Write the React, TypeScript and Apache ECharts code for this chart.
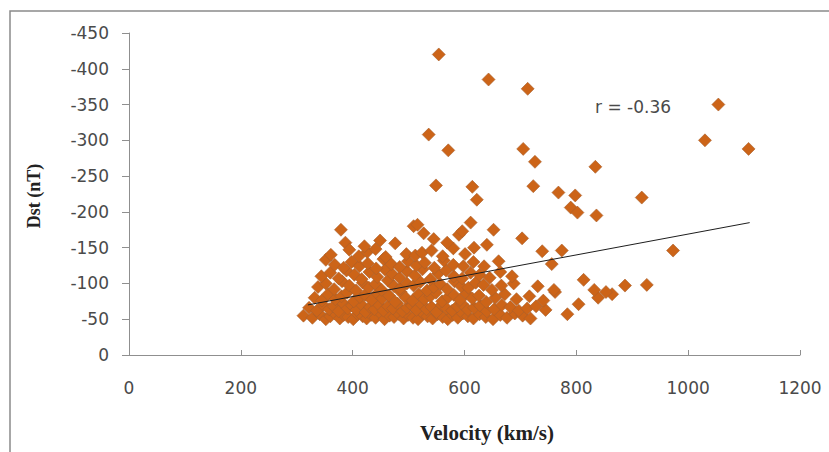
import React, { useEffect, useRef } from "react";
import * as echarts from "echarts";

// Velocity (km/s) and Dst (nT), grouped in Dst bands
const velA = [312,328,341,352,360,368,377,384,392,401,409,418,425,433,441,450,457,466,474,483,491,499,508,517,526,534,543,552,561,570,579,588,597,606,616,627,638,651,664,676,690,704,718,784];
const dstA = [-55,-52,-57,-50,-54,-58,-51,-56,-53,-50,-57,-54,-51,-56,-52,-58,-50,-55,-53,-57,-51,-56,-52,-50,-58,-54,-51,-57,-53,-50,-56,-52,-58,-54,-51,-57,-53,-50,-56,-52,-58,-55,-51,-57];

const velB = [322,336,347,358,366,375,383,391,399,407,415,423,431,439,447,455,463,472,480,489,497,506,514,523,532,541,550,559,568,578,587,596,606,617,628,640,653,667,682,697,712,728,745,804];
const dstB = [-66,-62,-70,-64,-68,-61,-72,-65,-69,-63,-71,-60,-67,-64,-70,-62,-68,-65,-72,-61,-66,-69,-63,-71,-64,-67,-60,-70,-65,-62,-68,-71,-63,-66,-69,-61,-64,-70,-67,-62,-65,-68,-63,-71];

const velC = [332,345,356,369,380,390,402,413,422,434,444,453,465,476,486,495,507,518,528,539,549,560,571,581,592,603,614,626,639,655,672,693,716,741,762,839,864];
const dstC = [-80,-76,-85,-78,-82,-87,-75,-81,-84,-77,-86,-79,-83,-74,-88,-80,-76,-85,-78,-82,-87,-75,-81,-84,-77,-86,-79,-83,-74,-80,-85,-78,-82,-76,-88,-80,-85];

const velD = [338,352,367,381,394,406,418,429,441,452,463,474,485,497,509,521,533,545,557,569,582,594,607,620,634,649,666,688,731,760,813,832,853,887,926];
const dstD = [-95,-100,-92,-103,-97,-90,-101,-94,-99,-91,-104,-96,-93,-100,-97,-102,-90,-95,-99,-92,-103,-96,-94,-101,-98,-91,-97,-100,-96,-91,-105,-91,-88,-97,-98];

const velE = [344,360,375,389,403,416,430,444,458,471,484,497,511,525,539,553,567,581,596,611,627,645,664,685];
const dstE = [-110,-115,-107,-118,-112,-106,-116,-109,-119,-113,-108,-117,-111,-120,-106,-114,-118,-110,-107,-115,-112,-108,-116,-110];

const velF = [352,368,384,398,412,427,442,455,469,484,499,514,529,546,563,580,598,616,635,661,756];
const dstF = [-133,-126,-122,-130,-124,-128,-121,-134,-127,-123,-131,-125,-129,-122,-132,-126,-124,-130,-124,-131,-127];

const velG = [361,387,394,411,426,441,459,476,496,512,524,541,561,580,601,617,640,739,774,973];
const dstG = [-140,-157,-147,-138,-144,-148,-137,-156,-141,-139,-143,-146,-138,-149,-141,-150,-154,-145,-146,-146];

const velH = [379,421,449,509,516,527,545,569,590,596,611,652,703];
const dstH = [-175,-152,-160,-180,-182,-170,-162,-157,-168,-173,-185,-175,-163];

const velOut = [554,643,713,1054,536,1030,571,705,1108,726,834,549,614,723,768,798,917,622,790,802,836];
const dstOut = [-420,-385,-372,-350,-308,-300,-286,-288,-288,-270,-263,-237,-235,-236,-227,-223,-220,-217,-206,-199,-195];

// Linear trendline end points
const trendVel = [320, 1110];
const trendDst = [-70, -185];

const xTicks = { min: 0, max: 1200, interval: 200 };
const yTicks = { min: -450, max: 0, interval: 50 };
const rLabel = "r = -0.36";

const zip = (a: number[], b: number[]) => a.map((v, i) => [v, b[i]]);

export default function App() {
  const ref = useRef<HTMLDivElement>(null);
  useEffect(() => {
    if (!ref.current) return;
    const chart = echarts.init(ref.current, undefined, { renderer: "svg" });
    const points = [
      ...zip(velA, dstA),
      ...zip(velB, dstB),
      ...zip(velC, dstC),
      ...zip(velD, dstD),
      ...zip(velE, dstE),
      ...zip(velF, dstF),
      ...zip(velG, dstG),
      ...zip(velH, dstH),
      ...zip(velOut, dstOut),
    ];
    const axisColor = "#8f8f8f";
    const labelStyle = {
      color: "#4a4a4a",
      fontSize: 17,
      fontFamily: "DejaVu Sans",
      formatter: (v: number) => String(v),
    };
    chart.setOption({
      animation: false,
      backgroundColor: "#ffffff",
      grid: { left: 129, right: 29, top: 33, bottom: 97, containLabel: false },
      xAxis: {
        type: "value",
        min: xTicks.min,
        max: xTicks.max,
        interval: xTicks.interval,
        axisLine: { show: true, onZero: false, lineStyle: { color: axisColor, width: 1 } },
        axisTick: { show: true, inside: true, length: 5, lineStyle: { color: axisColor } },
        axisLabel: { ...labelStyle, margin: 24 },
        splitLine: { show: false },
      },
      yAxis: {
        type: "value",
        inverse: true,
        min: yTicks.min,
        max: yTicks.max,
        interval: yTicks.interval,
        axisLine: { show: true, onZero: false, lineStyle: { color: axisColor, width: 1 } },
        axisTick: { show: true, inside: false, length: 7, lineStyle: { color: axisColor } },
        axisLabel: { ...labelStyle, margin: 20 },
        splitLine: { show: false },
      },
      series: [
        {
          type: "scatter",
          data: points,
          symbol: "diamond",
          symbolSize: 13,
          itemStyle: { color: "#CC6418", borderColor: "#a8602e", borderWidth: 0.6, opacity: 1 },
          z: 2,
        },
        {
          type: "line",
          data: zip(trendVel, trendDst),
          symbol: "none",
          lineStyle: { color: "#1e1e1e", width: 1 },
          z: 3,
        },
      ],
      graphic: [
        {
          type: "rect",
          shape: { x: 10, y: 11, width: 830, height: 450 },
          style: { fill: "none", stroke: "#8a8a8a", lineWidth: 1.5 },
          silent: true,
        },
        {
          type: "text",
          x: 595,
          y: 107,
          style: {
            text: rLabel,
            fill: "#4a4a4a",
            font: "17px 'DejaVu Sans'",
            textAlign: "left",
            textVerticalAlign: "middle",
          },
        },
        {
          type: "text",
          x: 487,
          y: 433,
          style: {
            text: "Velocity (km/s)",
            fill: "#222",
            font: "bold 21px 'Liberation Serif'",
            textAlign: "center",
            textVerticalAlign: "middle",
          },
        },
        {
          type: "text",
          x: 34,
          y: 196,
          rotation: Math.PI / 2,
          style: {
            text: "Dst (nT)",
            fill: "#222",
            font: "bold 18px 'Liberation Serif'",
            textAlign: "center",
            textVerticalAlign: "middle",
          },
        },
      ],
    });
    return () => chart.dispose();
  }, []);
  return (
    <div
      ref={ref}
      style={{ position: "fixed", left: 0, top: 0, width: 829, height: 452, background: "#fff" }}
    />
  );
}
